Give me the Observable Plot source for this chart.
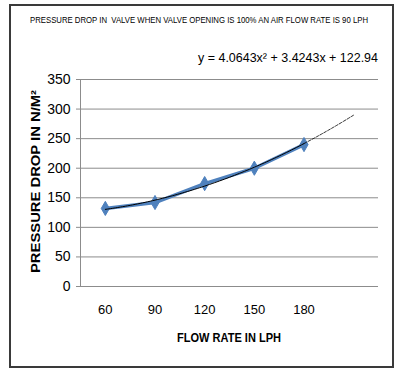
<!DOCTYPE html>
<html>
<head>
<meta charset="utf-8">
<script src="https://cdn.jsdelivr.net/npm/d3@7"></script>
<script src="https://cdn.jsdelivr.net/npm/@observablehq/plot@0.6"></script>
<style>
  html, body { margin: 0; padding: 0; background: #fff; }
  #chart { width: 400px; height: 380px; }
</style>
</head>
<body>
<div id="chart"></div>
<script>
// Flow rate categories (LPH) and measured pressure drop (N/m²)
const flowRates = [60, 90, 120, 150, 180];
const pressureDrop = [132, 142, 174, 200, 240];

// Polynomial trendline coefficients: y = a·x² + b·x + c (x = category index 1..6)
const trendCoef = [4.0643, 3.4243, 122.94];
const trendEquation = "y = 4.0643x² + 3.4243x + 122.94";

const yTicks = [0, 50, 100, 150, 200, 250, 300, 350];
const titleText = "PRESSURE DROP IN  VALVE WHEN VALVE OPENING IS 100% AN AIR FLOW RATE IS 90 LPH";
const xTitle = "FLOW RATE IN LPH";
const yTitle = "PRESSURE DROP IN N/M²";

const points = flowRates.map((f, i) => ({idx: i + 1, flow: f, value: pressureDrop[i]}));
const trendAt = x => trendCoef[0] * x * x + trendCoef[1] * x + trendCoef[2];
const trendSolid = d3.range(1, 5.0001, 0.05).map(x => ({x, y: trendAt(x)}));
const trendForecast = d3.range(5, 6.0001, 0.05).map(x => ({x, y: trendAt(x)}));

const font = "'Liberation Sans', Arial, sans-serif";
const blue = "#4F81BD";

const chart = Plot.plot({
  width: 400,
  height: 380,
  marginLeft: 80,
  marginRight: 22,
  marginTop: 79,
  marginBottom: 94,
  style: {fontFamily: font, fontSize: "13px", color: "#000", background: "#fff"},
  x: {domain: [0.5, 6.5]},
  y: {domain: [0, 350]},
  marks: [
    Plot.gridY(yTicks, {stroke: "#8c8c8c", strokeOpacity: 1}),
    Plot.ruleX([0.5], {y1: 0, y2: 350, stroke: "#8c8c8c"}),
    Plot.axisY(yTicks, {tickSize: 4, tickPadding: 6, stroke: "#8c8c8c", fill: "#000", label: null, fontSize: 14}),
    Plot.axisX([1, 2, 3, 4, 5], {
      tickSize: 0, tickPadding: 18, fill: "#000", label: null, fontSize: 13,
      tickFormat: i => flowRates[i - 1]
    }),
    Plot.line(points, {x: "idx", y: "value", stroke: blue, strokeWidth: 3.5}),
    Plot.dot(points, {x: "idx", y: "value", symbol: "diamond", r: 4.3, fill: blue, stroke: blue, strokeWidth: 1}),
    Plot.line(trendSolid, {x: "x", y: "y", stroke: "#000", strokeWidth: 1}),
    Plot.line(trendForecast, {x: "x", y: "y", stroke: "#000", strokeWidth: 0.8, strokeDasharray: "3,1.5"})
  ]
});

const svg = d3.select(chart);

// outer chart border
svg.append("rect")
  .attr("x", 10).attr("y", 5).attr("width", 383).attr("height", 362)
  .attr("fill", "none").attr("stroke", "#3a3a3a").attr("stroke-width", 2);

// chart title, condensed to fit the frame width
svg.append("text")
  .attr("transform", "translate(30,23) scale(1,1.2)")
  .attr("text-anchor", "start")
  .attr("font-family", font).attr("font-size", 7.6)
  .attr("textLength", 338).attr("lengthAdjust", "spacingAndGlyphs")
  .attr("fill", "#000")
  .text(titleText);

// trendline equation
svg.append("text")
  .attr("x", 198).attr("y", 62).attr("text-anchor", "start")
  .attr("font-family", font).attr("font-size", 13.5)
  .attr("textLength", 180).attr("lengthAdjust", "spacingAndGlyphs")
  .attr("fill", "#000")
  .text(trendEquation);

// x-axis title
svg.append("text")
  .attr("x", 177).attr("y", 342).attr("text-anchor", "start")
  .attr("font-family", font).attr("font-size", 13).attr("font-weight", "bold")
  .attr("textLength", 104).attr("lengthAdjust", "spacingAndGlyphs")
  .attr("fill", "#000")
  .text(xTitle);

// y-axis title
svg.append("text")
  .attr("transform", "translate(40,273) rotate(-90)")
  .attr("text-anchor", "start")
  .attr("font-family", font).attr("font-size", 13).attr("font-weight", "bold")
  .attr("textLength", 183).attr("lengthAdjust", "spacingAndGlyphs")
  .attr("fill", "#000")
  .text(yTitle);

document.getElementById("chart").appendChild(chart);
</script>
</body>
</html>
